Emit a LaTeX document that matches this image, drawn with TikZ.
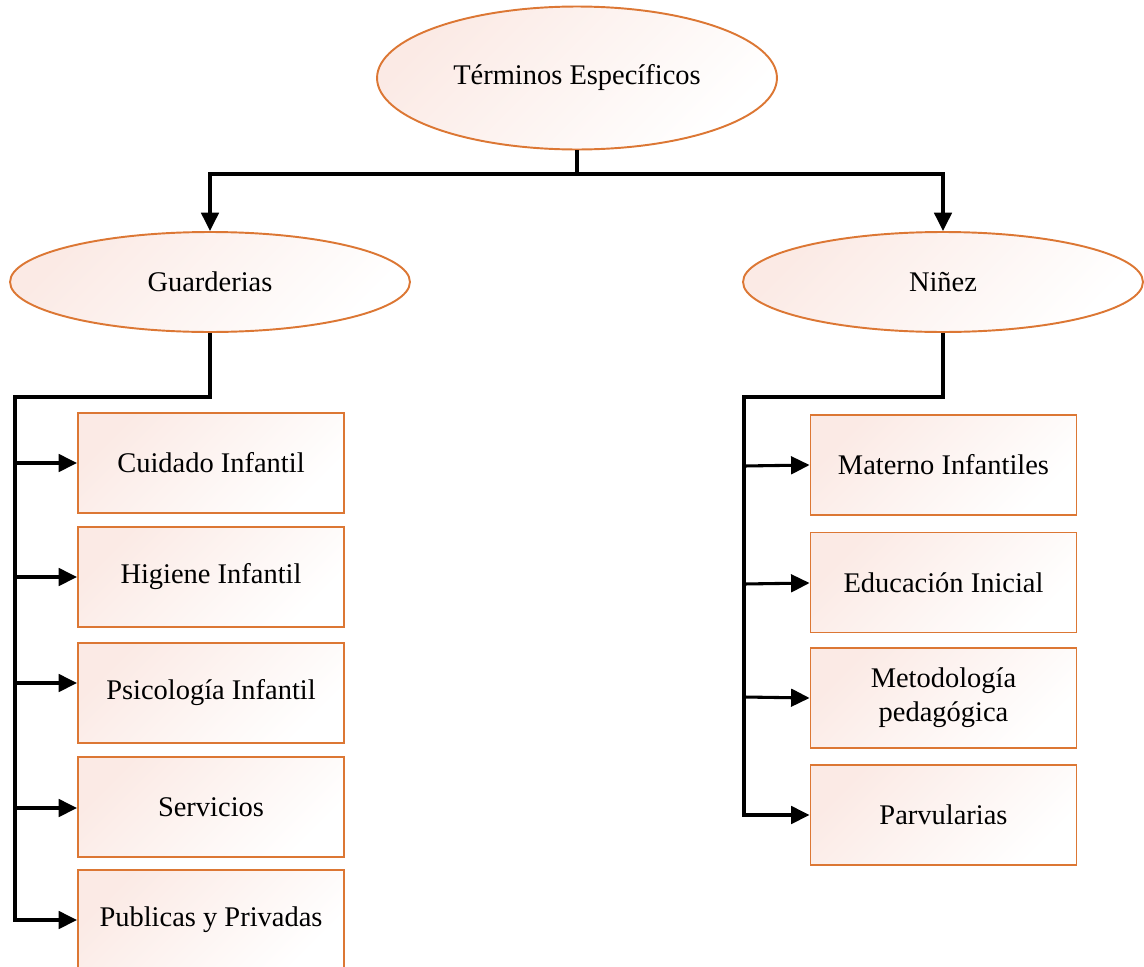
\documentclass[tikz,border=0pt]{standalone}
\usepackage{fontspec}
\setmainfont{Liberation Serif}
\usetikzlibrary{shapes.geometric,arrows.meta}
\definecolor{edgeorange}{HTML}{DC7734}
\definecolor{softpink}{HTML}{FBEAE5}
\begin{document}
\begin{tikzpicture}[x=0.02cm,y=-0.02cm,
  shadedfill/.style={draw=edgeorange,line width=1.1pt,
    top color=softpink,middle color=white,bottom color=white,shading angle=45},
  oval/.style={shadedfill,ellipse,inner sep=0pt,minimum width=8cm,minimum height=2cm},
  termbox/.style={shadedfill,rectangle,inner sep=0pt,minimum width=5.32cm,minimum height=2cm,align=center},
  link/.style={line width=1.75pt,black},
  tip/.style={link,-{Triangle[length=10.5pt,width=10pt]}},
  font=\fontsize{16.2}{19.5}\selectfont]
\useasboundingbox (0,0) rectangle (1144,967);

% top level
\node[oval,minimum height=2.86cm] (top) at (577,78) {Términos Específicos};
\node[oval] (guard) at (210,282) {Guarderias};
\node[oval] (ninez) at (943,282) {Niñez};

\coordinate (split) at (577,174);
\draw[link] (top.south) -- (split);
\draw[tip] (split) -| (guard.north);
\draw[tip] (split) -| (ninez.north);

% Guarderias branch
\node[termbox] (g1) at (211,463) {Cuidado Infantil};
\node[termbox] (g2) at (211,577) {Higiene Infantil};
\node[termbox] (g3) at (211,693) {Psicología Infantil};
\node[termbox] (g4) at (211,807) {Servicios};
\node[termbox] (g5) at (211,920) {Publicas y Privadas};

\coordinate (gbend) at (210,397);
\coordinate (gtop) at (15,397);
\coordinate (ga) at (15,463);
\coordinate (gb) at (15,577);
\coordinate (gc) at (15,683);
\coordinate (gd) at (15,808);
\coordinate (ge) at (15,920);
\draw[link] (guard.south) -- (gbend) -- (gtop) -- (ga);
\draw[tip] (ga) -- (g1.west |- ga);
\draw[tip] (gb) -- (g2.west |- gb);
\draw[tip] (gc) -- (g3.west |- gc);
\draw[tip] (gd) -- (g4.west |- gd);
\draw[tip] (ga) -- (ge) -- (g5.west |- ge);

% Niñez branch
\node[termbox] (n1) at (943.5,465) {Materno Infantiles};
\node[termbox] (n2) at (943.5,582.5) {Educación Inicial};
\node[termbox] (n3) at (943.5,698) {Metodología\\pedagógica};
\node[termbox] (n4) at (943.5,815) {Parvularias};

\coordinate (nbend) at (943,397);
\coordinate (ntop) at (744,397);
\coordinate (na) at (744,466);
\coordinate (nb) at (744,584);
\coordinate (nc) at (744,697);
\coordinate (nd) at (744,815);
\draw[link] (ninez.south) -- (nbend) -- (ntop) -- (na);
\draw[tip] (na) -- (n1.west |- 0,465);
\draw[tip] (nb) -- (n2.west |- 0,583);
\draw[tip] (nc) -- (n3.west |- 0,698);
\draw[tip] (na) -- (nd) -- (n4.west |- nd);
\end{tikzpicture}
\end{document}
